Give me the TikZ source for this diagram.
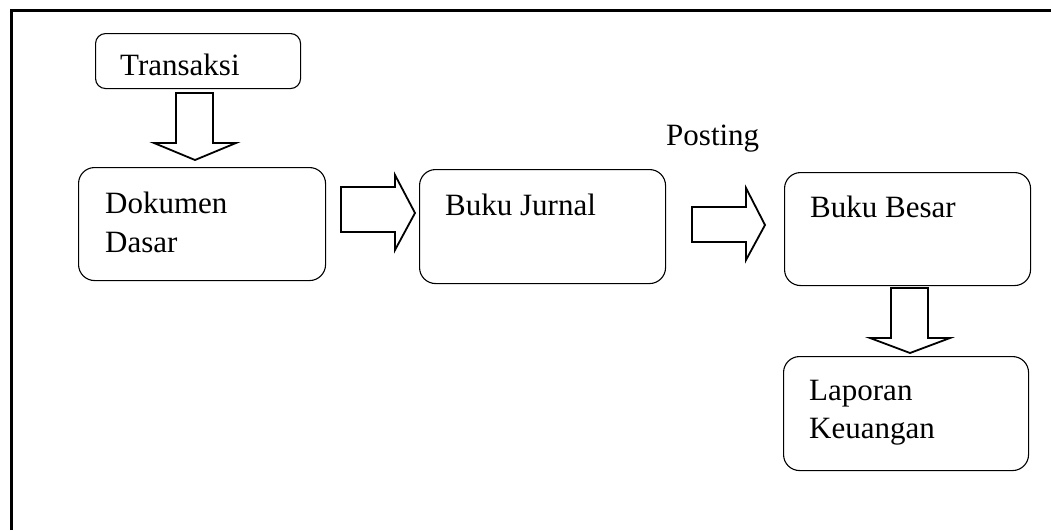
\documentclass[tikz,border=0pt]{standalone}
\usepackage{fontspec}
\setmainfont{Liberation Serif}
\begin{document}
\begin{tikzpicture}[x=1pt,y=-1pt,
  box/.style={draw=black,line width=1.1pt,rounded corners=16pt,anchor=north west,inner sep=0pt},
  smallbox/.style={box,rounded corners=10pt},
  txt/.style={anchor=base west,inner sep=0pt,font=\fontsize{31}{38}\selectfont},
  blockarrow/.style={draw=black,line width=1.8pt,fill=white,line join=miter},
  frame/.style={draw=black,line width=3pt}]
\useasboundingbox (0,0) rectangle (1051,530);
% frame (top and left edges)
\coordinate (f1) at (11,530);
\coordinate (f2) at (11,10);
\coordinate (f3) at (1051,10);
\draw[frame] (f1) -- (f2) -- (f3);
% boxes
\node[smallbox,minimum width=205pt,minimum height=55pt] (tr) at (95,33) {};
\node[box,minimum width=247pt,minimum height=113pt] (doc) at (78,167) {};
\node[box,minimum width=246pt,minimum height=114pt] (jur) at (419,169) {};
\node[box,minimum width=246pt,minimum height=113pt] (bes) at (784,172) {};
\node[box,minimum width=245pt,minimum height=114pt] (lap) at (783,356) {};
% texts
\node[txt] (ttr) at (120,75) {Transaksi};
\node[txt] (tdoc1) at (105,213) {Dokumen};
\node[txt] (tdoc2) at (105,252) {Dasar};
\node[txt] (tjur) at (445,215) {Buku Jurnal};
\node[txt] (tbes) at (810,217) {Buku Besar};
\node[txt] (tlap1) at (809,400) {Laporan};
\node[txt] (tlap2) at (809,438) {Keuangan};
\node[txt] (tpost) at (666,145) {Posting};
% block arrows
\draw[blockarrow] (176,93) -- (213,93) -- (213,143) -- (236,143) -- (195,160) -- (154,143) -- (176,143) -- cycle;
\draw[blockarrow] (341,187) -- (395,187) -- (395,175) -- (415,213) -- (395,250) -- (395,232) -- (341,232) -- cycle;
\draw[blockarrow] (692,207) -- (746,207) -- (746,188) -- (765,225) -- (746,260) -- (746,242) -- (692,242) -- cycle;
\draw[blockarrow] (891,288) -- (928,288) -- (928,338) -- (950,338) -- (910,353) -- (870,338) -- (891,338) -- cycle;
\end{tikzpicture}
\end{document}
